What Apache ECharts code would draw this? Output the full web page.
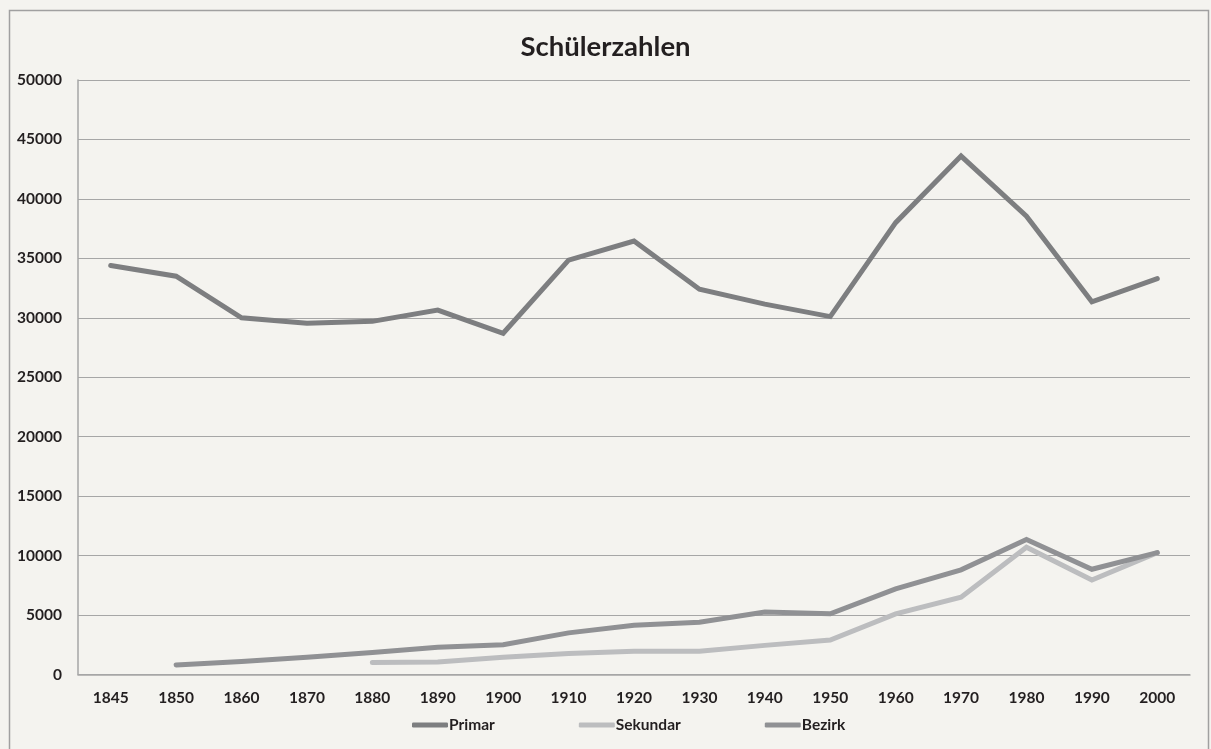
<!DOCTYPE html>
<html>
<head>
<meta charset="utf-8">
<script src="https://cdn.jsdelivr.net/npm/echarts@6/dist/echarts.min.js"></script>
<style>
html,body{margin:0;padding:0;background:#f4f3ef;}
#chart{width:1211px;height:749px;}
</style>
</head>
<body>
<div id="chart"></div>
<script>
const categories = ['1845','1850','1860','1870','1880','1890','1900','1910','1920','1930','1940','1950','1960','1970','1980','1990','2000'];
const primar   = [34400, 33500, 30000, 29550, 29700, 30650, 28700, 34850, 36450, 32400, 31150, 30100, 38000, 43600, 38550, 31350, 33300];
const sekundar = [null, null, null, null, 1000, 1050, 1450, 1770, 1950, 1950, 2450, 2900, 5100, 6500, 10700, 7950, 10250];
const bezirk   = [null, 800, 1100, 1450, 1850, 2300, 2500, 3500, 4150, 4400, 5250, 5100, 7200, 8800, 11350, 8850, 10250];

const FONT = 'Lato, "Open Sans", sans-serif';
const chart = echarts.init(document.getElementById('chart'));
chart.setOption({
  backgroundColor: '#f4f3ef',
  animation: false,
  title: {
    text: 'Schülerzahlen',
    left: 'center',
    top: 28,
    textStyle: {fontFamily: FONT, fontWeight: 'bold', fontSize: 27.5, color: '#231f20'}
  },
  graphic: [{
    type: 'rect',
    shape: {x: 9.5, y: 10.5, width: 1199, height: 750},
    style: {fill: 'none', stroke: '#a0a0a0', lineWidth: 1.5},
    silent: true
  }],
  legend: {
    bottom: 16,
    left: 412,
    itemGap: 84,
    itemWidth: 36,
    itemHeight: 5,
    padding: 0,
    icon: 'roundRect',
    textStyle: {fontFamily: FONT, fontWeight: 'bold', fontSize: 15.5, color: '#231f20', padding: [0,0,0,-4]},
    data: ['Primar', 'Sekundar', 'Bezirk']
  },
  grid: {left: 78, top: 80, right: 21, bottom: 74.5, containLabel: false},
  xAxis: {
    type: 'category',
    data: categories,
    boundaryGap: true,
    axisLine: {lineStyle: {color: '#a6a6a6', width: 1.5}},
    axisTick: {show: false},
    axisLabel: {margin: 15, fontFamily: FONT, fontWeight: 'bold', fontSize: 15.5, color: '#231f20'}
  },
  yAxis: {
    type: 'value',
    min: 0, max: 50000, interval: 5000,
    axisLine: {show: true, lineStyle: {color: '#a6a6a6', width: 1.5}},
    axisTick: {show: false},
    splitLine: {lineStyle: {color: '#a6a6a6', width: 1.2}},
    axisLabel: {margin: 16, fontFamily: FONT, fontWeight: 'bold', fontSize: 15.5, color: '#231f20',
                formatter: function (v) { return String(v); }}
  },
  series: [
    {name: 'Primar', type: 'line', data: primar, showSymbol: false, symbol: 'none',
     lineStyle: {width: 5, color: '#7d7e80', cap: 'round', join: 'miter'}, itemStyle: {color: '#7d7e80'}},
    {name: 'Sekundar', type: 'line', data: sekundar, showSymbol: false, symbol: 'none',
     lineStyle: {width: 5, color: '#bcbdbf', cap: 'round', join: 'miter'}, itemStyle: {color: '#bcbdbf'}},
    {name: 'Bezirk', type: 'line', data: bezirk, showSymbol: false, symbol: 'none',
     lineStyle: {width: 5, color: '#909194', cap: 'round', join: 'miter'}, itemStyle: {color: '#909194'}}
  ]
});
</script>
</body>
</html>
